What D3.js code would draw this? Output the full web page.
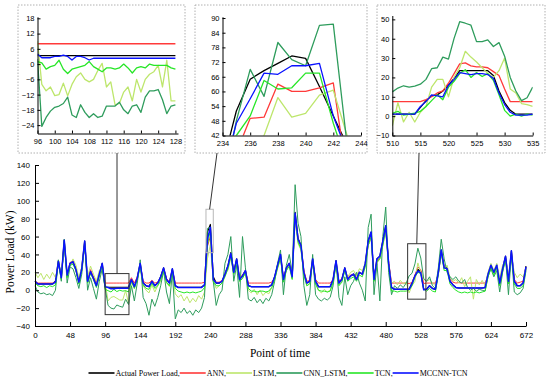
<!DOCTYPE html>
<html>
<head>
<meta charset="utf-8">
<script src="https://cdn.jsdelivr.net/npm/d3@7"></script>
<style>
  body { margin: 0; background: #fff; }
  svg { display: block; }
</style>
</head>
<body>
<div id="chart"></div>
<script>
// ---- data ----
const seriesNames = ['Actual Power Load', 'ANN', 'LSTM', 'CNN_LSTM', 'TCN', 'MCCNN-TCN'];
const seriesColors = ['#000000', '#ff3a3a', '#bde66c', '#2e9c5c', '#27e627', '#0a12ff'];

// main chart, one value every 4 points of time
const timeMain = d3.range(0, 673, 4);
const actualMain = [10,7,7,7,7,7,7,10,33,14,56,16,30,31,24,9,25,55,9,21,14,5,18,30,
  3.3,3.3,3.3,3.3,3.3,3.3,3.3,3.3,3.3,
  12,4,14,30,8,5,4,10,5,8,15,25,12,8,24,5,
  3.3,3.3,3.3,3.3,3.3,3.3,3.3,3.3,3.5,
  6,65,73.5,15,8,8,10,18,27,42,20,35,12,16,22,5,
  4,4,4,4,4,4,4,
  6,15,28,40,12,25,30,15,87,58,50,20,8,10,35,10,4,
  4,4,4,4,12,33,8,12,25,12,16,18,12,20,18,30,55,65,12,35,38,55,72,30,3,
  1,1,1,1,1,1,
  8,16,23.5,21,1,1,5,2,1,20,45,25,25,10,6,3,
  2.5,2.5,2.5,2.5,2.5,2.5,2.5,2.5,2.5,
  3,18,28,20,28,8,24,38,10,44,10,5,5,8,27];
const annMain = [10,8,8,8,8,8,8,9,30,16,52,18,31,33,22,10,22,52,12,23,15,9,16,28,
  8,8,8,8,8,8,8,8,8,
  14,8,15,28,10,8,8,11,8,9,14,24,13,9,22,8,
  8,8,8,8,8,8,8,8,8,
  9,49,60,10,9,9,11,16,25,38,21,32,14,17,22,8,
  8,8,8,8,8,8,8,
  9,14,26,38,14,24,30,17,80,57,49,22,10,11,32,12,8,
  8,8,8,8,12,30,10,13,23,14,17,18,14,20,18,28,50,60,15,32,36,52,68,32,8,
  8,8,8,8,8,7.5,
  8.5,17,26,23,7.5,8,8,8,8,18,42,26,24,12,9,8,
  8.5,8,8,8,8,8,8,8,8,
  8,16,26,20,27,10,23,35,12,40,12,8,9,10,25];
const lstmMain = [20,14,19,12,18,13,20,14,28,18,50,20,27,35,28,14,26,50,15,27,18,10,22,26,
  9,-12,-8,-7,-9,-11,-11,-0.5,-14.5,
  10,2,12,25,5,0,-3,6,-2,5,10,20,8,4,18,-4,
  -8,-5,-12,-7,-14,-9,-13,-6,-10,
  -2,35,51,10,2,5,8,20,22,36,18,30,10,14,18,0,
  -3,1,-5,0,-6,-2,-4,
  3,12,24,35,10,22,27,13,78,52,45,18,5,8,30,8,0,
  -3,1,-2,0,8,28,6,10,22,15,20,22,16,24,22,30,50,58,10,30,35,50,65,28,8,
  10,6,11,7,9,-3,
  5,10,30.5,20,12,10,12,8,5,20,40,24,28,14,10,12,
  8,14,4,10,15,-10,12,6,11,
  5,20,30,22,30,14,28,34,18,38,20,14,18,15,24];
const cnnLstmMain = [5,-2,-4,-3,-5,-4,-6,0,34,10,57,8,26,24,14,2,18,52,0,14,2,-10,10,24,
  2,-17,-20,-21,-16.5,-18,-19,-10,-16,
  5,-12,8,34,-8,-15,-28,-10,-18,-8,5,22,-2,-15,20,-32,
  -22,-25,-20,-26,-23,-28,-22,-25,-20,
  -8,69,70.5,10,-17,-5,0,30,40,60,10,28,-8,60,25,-10,
  -12,-8,-14,-10,-15,-9,-12,
  -5,10,30,45,-5,28,40,20,118,75,60,5,-17,-5,40,-5,-10,
  -12,-9,-11,-8,5,32,-8,-17,15,-5,5,10,20,8,0,-12,70,85,-5,30,-12,60,93,20,-5,
  5,2,6,3,8,16,
  19,29.5,47,36,13,10,15,5,2,25,57,35,20,15,12,15,
  10,8,12,3,0,2,-1,1,0,
  -1,15,24,15,22,-2,20,36,-5,40,-2,-5,-3,2,22];
const tcnMain = [8,5,4,5,3,5,4,6,30,12,53,14,28,29,22,7,22,52,8,19,12,3,16,27,
  1,-0.5,-2,1,-1.5,0,-1,-0.5,-2,
  10,2,12,27,6,2,1,8,2,5,12,22,9,5,22,2,
  -1,-2,-3,-2,-3,-2,-3,-2,-1,
  3,50,67.5,10,5,5,8,15,24,38,18,32,10,13,20,2,
  -1,-1,-2,-1,-1,-2,-1,
  3,12,25,36,9,22,27,12,82,54,46,17,5,7,32,7,0,
  -1,-1,-2,-1,9,30,5,9,22,10,13,15,10,17,15,26,50,60,10,32,35,50,68,26,-1,
  -1,-2,-1,-1,-1,0.5,
  5,15,20,18.5,1,-1,2,-1,-2,17,42,22,22,7,3,0,
  -2,-3,-2,-3,-2,-3,-2,-3,-2,
  -1,15,25,17,25,5,21,34,7,40,7,2,2,5,24];
const mccnnMain = [10,7,7,7,7,7,7,9,32,14,56,17,30,32,23,9,24,55,10,21,13,5,18,30,
  4,3,1.6,1.6,2.3,2.3,2.3,2.3,2.3,
  12,4,14,30,8,5,4,10,5,8,15,25,12,8,24,5,
  3,3,3,3,3,3,3,3,3,
  6,57,70.5,12,8,8,10,18,27,41,20,35,12,16,22,5,
  4,4,4,4,4,4,4,
  6,15,28,40,12,25,30,15,86,57,50,20,8,10,35,10,4,
  4,4,4,4,12,33,8,12,25,12,16,18,12,20,18,30,55,65,12,35,38,55,72,30,3,
  1,1,1,1,1,1,
  7.5,16,21.5,19.5,0.5,1,5,2,1,20,45,25,24,10,6,3,
  2.5,2.5,2.5,2.5,2.5,2.5,2.5,2.5,2.5,
  3,18,28,20,28,8,24,38,10,44,10,5,5,8,26];

const xTicksMain = [0,48,96,144,192,240,288,336,384,432,480,528,576,624,672];
const yTicksMain = [-40,-20,0,20,40,60,80,100,120,140];

// inset 1: points 96-128
const time1 = d3.range(96, 129);
const actual1 = [3.3,3.3,3.3,3.3,3.3,3.3,3.3,3.3,3.3,3.3,3.3,3.3,3.3,3.3,3.3,3.3,3.3,3.3,3.3,3.3,3.3,3.3,3.3,3.3,3.3,3.3,3.3,3.3,3.3,3.3,3.3,3.3,3.3];
const ann1 = [8,8,8,8,8,8,8,8,8,8,8,8,8,8,8,8,8,8,8,8,8,8,8,8,8,8,8,8,8,8,8,8,8];
const lstm1 = [9,-8,-10.5,-9,-12.4,-12,-7.5,-12.5,-8,-5,-3.5,-6,-7,-6,-2.5,0.3,-9,-7,-16,-15.5,-11,-9,-14.5,-6,-11,-6,-4,-3,-0.5,-9,1.5,-14.5,-14.5];
const cnnLstm1 = [2,-24.5,-21,-18.5,-17,-16.5,-15.5,-13,-20,-21,-16,-19,-21,-19.5,-21,-20.5,-16.5,-16.5,-16.5,-15,-18,-19.5,-16.5,-16,-19,-13,-10.5,-10.5,-10,-14,-19.5,-16.5,-16];
const tcn1 = [1,0.5,-2,-1,-0.5,1.5,-2,-3.7,-2,-1.5,-1,-0.5,1,-1,-2,-3,-1.5,-1.5,-2,-1.5,0,-1.5,-3.5,-1.5,-1,-1.5,0,-0.5,-0.5,-0.5,-0.5,-1.5,-2];
const mccnn1 = [4,2.5,2.5,2.5,3,3,3.5,3,1.6,3,3,2.5,1.6,2.3,2.3,2.3,2.3,2.3,2.3,2.3,2.3,2.3,2.3,2.3,2.3,2.3,2.3,2.3,2.3,2.3,2.3,2.3,2.3];

// inset 2: points 234-244
const time2 = d3.range(234, 245);
const actual2 = [30,52,65,68.5,71.5,74.5,73.5,62,50,38,15];
const ann2 = [20,35,49,49.5,63,60,60,61.5,63.5,25,10];
const lstm2 = [15,25,35,42,57.5,49.5,51,58.5,60.5,42,10];
const cnnLstm2 = [20,48,69,58,80,73,70.5,87,87.5,38,10];
const tcn2 = [22,42,50,64.5,61,61.5,67.5,67.5,47,30,10];
const mccnn2 = [25,47,57,67.5,67,70.5,70.5,71.5,50,35,12];

// inset 3: points 510-535
const time3 = d3.range(510, 536);
const actual3 = [1,1,1,1,1,4.5,8,10.5,11,13,16,19.5,23.5,23.5,23.5,23.5,23.5,23.5,21,13,7,3,1,1,1,1];
const ann3 = [7.5,7.5,7.5,7.5,7.5,7.5,8.5,10,12,13,17,22,27,27.5,26,25.5,25.5,25,23,21,14,7.5,7.5,7.5,7.5,7.5];
const lstm3 = [-5,7,-3,2,-3,2,5,15,19,19,10,20,25,33.5,30.5,28,25,22,20,23.5,30,14,12,6.5,6,5];
const cnnLstm3 = [12.5,14.5,15.7,15,15.5,16.5,19,24.5,25,30.5,29.5,40.2,48.8,48,47,38.5,38.5,39.4,36,38,31,20,13,8,9.5,15];
const tcn3 = [1.5,2.5,0.5,1,1.5,2.5,5,8,11,8.5,15,18,22,24,20,22.5,20.5,22,18.5,11,3,0,1,0,1,0.5];
const mccnn3 = [1,1,1,1,1,5,7.5,11,10.5,10,16,19,22.5,22,21.5,22,22,21.5,19.5,12,6,2,0.5,0.5,0.5,1];

// ---- drawing ----
const width = 550, height = 380;
const sansFont = '"Liberation Sans", Arial, sans-serif';
const serifFont = '"Liberation Serif", "Times New Roman", serif';

const svg = d3.select('#chart').append('svg')
  .attr('width', width)
  .attr('height', height);

const x = d3.scaleLinear().domain([0, 672]).range([35, 526]);
const y = d3.scaleLinear().domain([-40, 140]).range([326, 165]);

const mainSeries = [actualMain, annMain, lstmMain, cnnLstmMain, tcnMain, mccnnMain];
const mainWidths = [1.2, 1, 1, 1, 1, 1.5];

const mainLine = d3.line()
  .x((d) => x(d[0]))
  .y((d) => y(d[1]));

const gMain = svg.append('g');
mainSeries.forEach((vals, k) => {
  gMain.append('path')
    .datum(timeMain.map((t, i) => [t, vals[i]]))
    .attr('fill', 'none')
    .attr('stroke', seriesColors[k])
    .attr('stroke-width', mainWidths[k])
    .attr('stroke-linejoin', 'round')
    .attr('d', mainLine);
});

// axes with inward ticks, major + minor
function styleAxis(g, fontSize) {
  g.attr('font-family', null);
  g.select('.domain').attr('stroke', '#000').attr('stroke-width', 1);
  g.selectAll('.tick line').attr('stroke', '#000');
  g.selectAll('text')
    .attr('fill', '#000')
    .style('font-family', sansFont)
    .style('font-size', fontSize + 'px');
}

function drawAxes(g, xs, ys, opt) {
  const xr = xs.range(), yr = ys.range();
  const bottom = g.append('g').attr('transform', `translate(0,${yr[0]})`);
  bottom.call(d3.axisBottom(xs).tickValues(opt.xMinor).tickSize(-opt.minor).tickSizeOuter(0).tickFormat(''));
  bottom.call(d3.axisBottom(xs).tickValues(opt.xMajor).tickSize(-opt.major).tickSizeOuter(0)
    .tickPadding(opt.xPad).tickFormat(d3.format('d')));
  styleAxis(bottom, opt.font);

  const left = g.append('g').attr('transform', `translate(${xr[0]},0)`);
  left.call(d3.axisLeft(ys).tickValues(opt.yMinor).tickSize(-opt.minor).tickSizeOuter(0).tickFormat(''));
  left.call(d3.axisLeft(ys).tickValues(opt.yMajor).tickSize(-opt.major).tickSizeOuter(0)
    .tickPadding(opt.yPad).tickFormat(d3.format('d')));
  styleAxis(left, opt.font);
}

drawAxes(svg, x, y, {
  xMajor: xTicksMain, xMinor: d3.range(0, 673, 12),
  yMajor: yTicksMain, yMinor: d3.range(-40, 141, 10),
  major: 4, minor: 2.5, xPad: 6, yPad: 5, font: 8
});

// axis titles
svg.append('text')
  .attr('x', 280).attr('y', 357)
  .attr('text-anchor', 'middle')
  .style('font-family', serifFont)
  .style('font-size', '11.5px')
  .text('Point of time');

svg.append('text')
  .attr('transform', 'translate(14,252) rotate(-90)')
  .attr('text-anchor', 'middle')
  .style('font-family', serifFont)
  .style('font-size', '11.5px')
  .text('Power Load (kW)');

// legend
const legend = svg.append('g').attr('transform', 'translate(88.5,373)');
let lx = 0;
seriesNames.forEach((name, k) => {
  legend.append('line')
    .attr('x1', lx).attr('x2', lx + 26)
    .attr('y1', 0).attr('y2', 0)
    .attr('stroke', seriesColors[k])
    .attr('stroke-width', 1.6);
  const t = legend.append('text')
    .attr('x', lx + 27).attr('y', 3)
    .style('font-family', serifFont)
    .style('font-size', '8px')
    .text(k < seriesNames.length - 1 ? name + ',' : name);
  lx += 27 + t.node().getComputedTextLength();
});

// ---- zoomed insets ----
const insets = [
  {
    box: [18, 5, 185, 153], anchorX: 117, markColor: '#333',
    xDomain: [96, 128.6], xRange: [37.5, 178], yDomain: [-27.3, 18.6], yRange: [133.5, 16.8],
    xMajor: [96,100,104,108,112,116,120,124,128], xMinor: d3.range(96, 129, 1),
    yMajor: [-24,-18,-12,-6,0,6,12,18], yMinor: d3.range(-27, 19, 3),
    time: time1, series: [actual1, ann1, lstm1, cnnLstm1, tcn1, mccnn1]
  },
  {
    box: [195, 5, 367, 153], anchorX: 217, markColor: '#b8b8b8',
    xDomain: [234, 244], xRange: [222.5, 361], yDomain: [42, 90.5], yRange: [135.5, 16.8],
    xMajor: [234,236,238,240,242,244], xMinor: d3.range(234, 244.1, 0.5),
    yMajor: [42,48,54,60,66,72,78,84,90], yMinor: d3.range(42, 91, 3),
    time: time2, series: [actual2, ann2, lstm2, cnnLstm2, tcn2, mccnn2]
  },
  {
    box: [377, 5, 545, 153], anchorX: 419, markColor: '#333',
    xDomain: [510, 535], xRange: [392.3, 532.7], yDomain: [-10, 52], yRange: [135.5, 15.5],
    xMajor: [510,515,520,525,530,535], xMinor: d3.range(510, 536, 1),
    yMajor: [-10,0,10,20,30,40,50], yMinor: d3.range(-10, 51, 5),
    time: time3, series: [actual3, ann3, lstm3, cnnLstm3, tcn3, mccnn3]
  }
];

insets.forEach((cfg, n) => {
  const [bx0, by0, bx1, by1] = cfg.box;
  const xs = d3.scaleLinear().domain(cfg.xDomain).range(cfg.xRange);
  const ys = d3.scaleLinear().domain(cfg.yDomain).range(cfg.yRange);

  // dotted frame
  svg.append('rect')
    .attr('x', bx0).attr('y', by0)
    .attr('width', bx1 - bx0).attr('height', by1 - by0)
    .attr('fill', 'none')
    .attr('stroke', '#b0b0b0')
    .attr('stroke-width', 1)
    .attr('stroke-dasharray', '1.5,1.5');

  // matching region on the main chart and the connector
  const rx0 = x(cfg.xDomain[0]), rx1 = x(cfg.xDomain[1]);
  const ry0 = y(cfg.yDomain[1]), ry1 = y(cfg.yDomain[0]);
  svg.append('rect')
    .attr('x', rx0).attr('y', ry0)
    .attr('width', rx1 - rx0).attr('height', ry1 - ry0)
    .attr('fill', 'none')
    .attr('stroke', cfg.markColor)
    .attr('stroke-width', 1);
  svg.append('line')
    .attr('x1', cfg.anchorX).attr('y1', by1)
    .attr('x2', (rx0 + rx1) / 2).attr('y2', ry0)
    .attr('stroke', '#333')
    .attr('stroke-width', 1);

  // clipped lines
  const clipId = 'clip' + n;
  svg.append('clipPath').attr('id', clipId)
    .append('rect')
    .attr('x', cfg.xRange[0]).attr('y', cfg.yRange[1])
    .attr('width', cfg.xRange[1] - cfg.xRange[0])
    .attr('height', cfg.yRange[0] - cfg.yRange[1]);

  const line = d3.line().x((d) => xs(d[0])).y((d) => ys(d[1]));
  const g = svg.append('g').attr('clip-path', `url(#${clipId})`);
  cfg.series.forEach((vals, k) => {
    g.append('path')
      .datum(cfg.time.map((t, i) => [t, vals[i]]))
      .attr('fill', 'none')
      .attr('stroke', seriesColors[k])
      .attr('stroke-width', 1.3)
      .attr('stroke-linejoin', 'round')
      .attr('d', line);
  });

  drawAxes(svg, xs, ys, {
    xMajor: cfg.xMajor, xMinor: cfg.xMinor,
    yMajor: cfg.yMajor, yMinor: cfg.yMinor,
    major: 3, minor: 1.8, xPad: 5, yPad: 3, font: 7.5
  });
});
</script>
</body>
</html>
